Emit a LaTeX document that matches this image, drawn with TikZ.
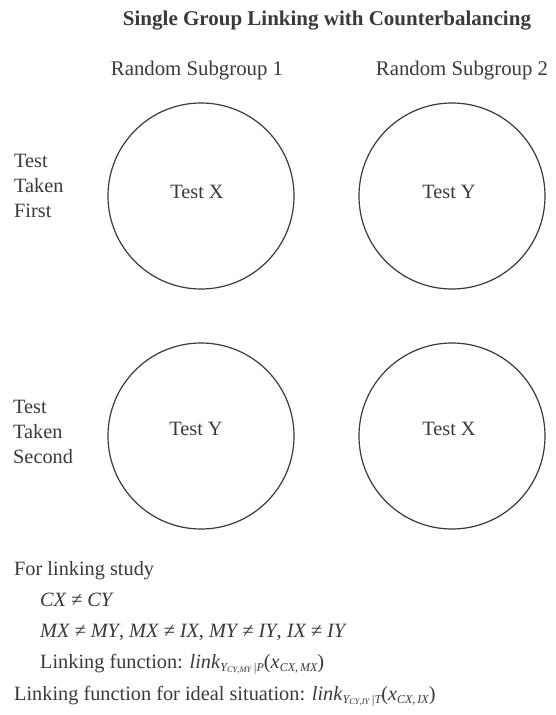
\documentclass[tikz,border=0pt]{standalone}
\usepackage{fontspec}
\setmainfont{Liberation Serif}
\definecolor{ink}{HTML}{3A3A3A}
\newcommand{\sbA}[1]{\raisebox{-0.35ex}{\fontsize{12}{12}\selectfont\itshape #1}}
\newcommand{\sbB}[1]{\raisebox{-0.3ex}{\fontsize{8.5}{8.5}\selectfont\itshape #1}}
\begin{document}
\begin{tikzpicture}[x=1pt,y=-1pt,
  txt/.style={inner sep=0pt,text=ink,font=\fontsize{20.3}{24}\selectfont},
  lbl/.style={txt,anchor=base west},
  ctr/.style={txt,anchor=base},
  grp/.style={circle,draw=ink,line width=1.2pt,minimum size=186pt,inner sep=0pt}]
\useasboundingbox (0,0) rectangle (555,715);
\fill[white] (0,0) rectangle (555,715);
% title
\node[ctr,font=\fontsize{21}{25}\selectfont\bfseries] (title) at (327,25) {Single Group Linking with Counterbalancing};
% column heads
\node[ctr,font=\fontsize{20.8}{24}\selectfont] (sg1) at (197,75) {Random Subgroup 1};
\node[ctr,font=\fontsize{20.8}{24}\selectfont] (sg2) at (462,75) {Random Subgroup 2};
% circles
\node[grp] (c11) at (201,196) {};
\node[grp] (c12) at (452,196) {};
\node[grp] (c21) at (201,436) {};
\node[grp] (c22) at (452,436) {};
% circle labels
\node[ctr] (t11) at (197,198) {Test X};
\node[ctr] (t12) at (449,198) {Test Y};
\node[ctr] (t21) at (196,435) {Test Y};
\node[ctr] (t22) at (449,435) {Test X};
% row labels
\node[lbl] (r1a) at (14,167) {Test};
\node[lbl] (r1b) at (14,192) {Taken};
\node[lbl] (r1c) at (14,217) {First};
\node[lbl] (r2a) at (13,413) {Test};
\node[lbl] (r2b) at (13,438) {Taken};
\node[lbl] (r2c) at (13,463) {Second};
% notes
\node[lbl] (n1) at (14,575) {For linking study};
\node[lbl] (n2) at (40,606) {\itshape CX ≠ CY};
\node[lbl] (n3) at (40,637) {\itshape MX ≠ MY\upshape, \itshape MX ≠ IX\upshape, \itshape MY ≠ IY\upshape, \itshape IX ≠ IY};
\node[lbl] (n4) at (40,668) {Linking function: \textit{link}\sbA{Y\sbB{CY\upshape,\itshape MY}\,|P}(\textit{x}\sbA{CX\upshape,\itshape\,MX})};
\node[lbl] (n5) at (14,700) {Linking function for ideal situation: \textit{link}\sbA{Y\sbB{CY\upshape,\itshape IY}\,|T}(\textit{x}\sbA{CX\upshape,\itshape\,IX})};
\end{tikzpicture}
\end{document}
